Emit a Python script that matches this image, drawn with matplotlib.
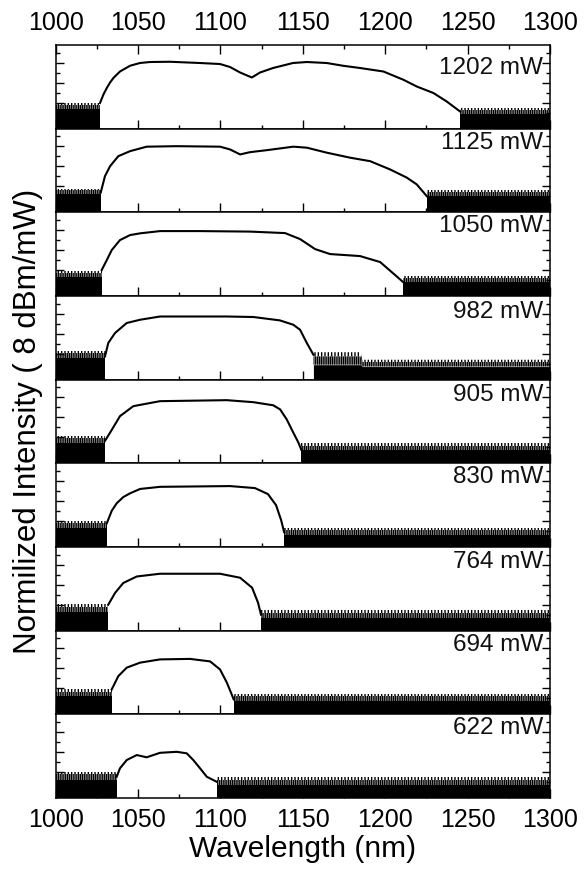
import matplotlib
matplotlib.use("Agg")
import matplotlib.pyplot as plt
from matplotlib.ticker import MultipleLocator

plt.rcParams['font.family'] = ['Liberation Sans', 'DejaVu Sans']
plt.rcParams['hatch.linewidth'] = 1.0
plt.rcParams['hatch.color'] = 'black'

# ---------------- data ----------------
powers = ['1202 mW', '1125 mW', '1050 mW', '982 mW', '905 mW',
          '830 mW', '764 mW', '694 mW', '622 mW']

# signal envelopes: wavelength (nm) and level (dB above panel floor)
wl_1202 = [1026.9, 1029.0, 1031.0, 1033.0, 1035.0, 1039.0, 1045.1, 1051.1, 1057.2, 1069.4,
           1087.6, 1099.7, 1105.8, 1111.9, 1119.0, 1124.0, 1131.9, 1144.0, 1152.4, 1164.5,
           1174.4, 1184.7, 1198.9, 1211.0, 1219.1, 1229.2, 1237.3, 1245.4]
db_1202 = [20.6, 27.5, 32.6, 37.0, 40.6, 45.8, 50.4, 52.6, 53.4, 53.6,
           52.6, 51.8, 49.4, 45.0, 41.0, 45.0, 48.6, 52.6, 53.4, 52.6,
           50.4, 48.6, 45.8, 39.2, 33.8, 28.6, 21.8, 13.8]

wl_1125 = [1027.3, 1029.9, 1033.0, 1038.0, 1045.1, 1055.2, 1073.4, 1099.7, 1105.8, 1111.9,
           1117.9, 1128.1, 1144.2, 1152.4, 1164.5, 1178.6, 1190.8, 1202.9, 1213.1, 1219.1,
           1225.2]
db_1125 = [15.8, 29.0, 37.0, 45.0, 49.0, 52.6, 53.0, 52.6, 50.4, 46.4,
           48.2, 49.8, 52.6, 51.8, 47.8, 43.8, 41.0, 34.4, 27.8, 22.4,
           13.0]

wl_1050 = [1027.9, 1031.0, 1034.0, 1039.0, 1045.1, 1051.2, 1063.3, 1087.6, 1117.9, 1139.2,
           1148.3, 1157.4, 1166.5, 1184.7, 1196.9, 1206.0, 1211.0]
db_1050 = [20.8, 28.8, 36.8, 44.8, 48.8, 50.2, 52.0, 52.0, 51.6, 50.4,
           45.6, 37.6, 33.6, 32.0, 27.2, 16.8, 11.0]

wl_982 = [1029.9, 1031.9, 1036.0, 1043.1, 1051.2, 1063.3, 1103.8, 1119.9, 1136.0, 1144.2,
          1148.3, 1152.4, 1156.4]
db_982 = [18.6, 29.4, 37.4, 45.4, 48.0, 50.6, 50.6, 50.2, 47.5, 44.0,
          40.0, 29.4, 20.0]

wl_905 = [1029.9, 1033.0, 1039.0, 1047.1, 1063.3, 1103.8, 1119.9, 1132.0, 1136.2, 1140.2,
          1144.2, 1147.3, 1149.0]
db_905 = [18.0, 24.6, 37.8, 45.8, 49.8, 50.6, 49.0, 46.5, 43.2, 35.2,
          24.6, 16.6, 11.0]

wl_830 = [1031.0, 1034.0, 1037.0, 1041.0, 1045.1, 1051.2, 1063.3, 1105.8, 1120.9, 1128.8,
          1133.7, 1136.8, 1138.6]
db_830 = [19.0, 29.0, 35.0, 40.0, 43.0, 46.5, 48.2, 48.8, 47.2, 42.4,
          33.6, 21.6, 12.0]

wl_764 = [1031.9, 1036.0, 1041.0, 1049.2, 1063.3, 1099.7, 1111.9, 1119.2, 1122.8, 1124.6]
db_764 = [20.8, 30.2, 38.2, 43.4, 45.6, 45.6, 42.4, 34.4, 22.4, 12.8]

wl_694 = [1034.0, 1038.0, 1043.1, 1051.2, 1063.3, 1081.5, 1093.7, 1099.7, 1103.8, 1106.8,
          1108.0]
db_694 = [20.0, 30.6, 37.4, 41.4, 44.0, 44.4, 42.4, 36.0, 25.6, 16.0, 12.0]

wl_622 = [1037.0, 1039.0, 1043.1, 1049.2, 1055.2, 1063.3, 1073.4, 1079.5, 1083.5, 1087.6,
          1091.7, 1097.7]
db_622 = [17.0, 23.8, 30.4, 34.4, 32.6, 36.2, 37.0, 35.8, 30.4, 23.8,
          17.0, 13.0]

signal_wl = [wl_1202, wl_1125, wl_1050, wl_982, wl_905, wl_830, wl_764, wl_694, wl_622]
signal_db = [db_1202, db_1125, db_1050, db_982, db_905, db_830, db_764, db_694, db_622]

# noise floor left of the spectrum: dense level, spike level (dB)
left_dense = [16.0, 15.0, 15.5, 17.0, 16.0, 15.0, 15.0, 14.5, 14.5]
left_spike = [20.5, 19.0, 20.0, 23.0, 22.0, 21.0, 21.0, 20.0, 21.0]

# noise floor right of the spectrum (wavelength breakpoints, dense and spike levels)
right_wl = [[1245.4, 1300], [1225.2, 1300], [1211.0, 1300],
            [1156.4, 1185, 1186, 1300], [1149.0, 1300], [1138.6, 1300],
            [1124.6, 1300], [1108.0, 1300], [1097.7, 1300]]
right_dense = [[12.0, 12.0], [13.5, 13.5], [11.5, 11.5],
               [12.0, 12.0, 10.5, 10.5], [10.5, 10.5], [10.0, 10.0],
               [10.0, 10.0], [10.5, 10.5], [10.5, 10.5]]
right_spike = [[16.5, 16.5], [18.0, 18.0], [16.0, 16.0],
               [22.0, 22.0, 16.0, 16.0], [16.0, 16.0], [15.0, 15.0],
               [16.5, 16.5], [16.5, 16.5], [16.5, 16.5]]

label_y = [0.725, 0.827, 0.835, 0.812, 0.82, 0.833, 0.824, 0.833, 0.84]

x_ticks = [1000, 1050, 1100, 1150, 1200, 1250, 1300]


def draw_floor(ax, wl, dense, spike):
    ax.fill_between(wl, 0, dense, color='black', lw=0)
    top = [(d + 2 * s) / 3 for d, s in zip(dense, spike)]
    ax.fill_between(wl, dense, top, facecolor='none', edgecolor='black',
                    hatch='|' * 9, lw=0.0001)
    ax.fill_between(wl, top, spike, facecolor='none', edgecolor='black',
                    hatch='|' * 5, lw=0.0001)


# ---------------- figure ----------------
fig = plt.figure(figsize=(5.84, 8.71), dpi=100)
gs = fig.add_gridspec(9, 1, left=0.0954, right=0.9418, top=0.9483,
                      bottom=0.0838, hspace=0)
axes = [fig.add_subplot(gs[i, 0]) for i in range(9)]

for i, ax in enumerate(axes):
    ax.set_xlim(1000, 1300)
    ax.set_ylim(0, 67)
    draw_floor(ax, [1000, signal_wl[i][0]], [left_dense[i]] * 2, [left_spike[i]] * 2)
    draw_floor(ax, right_wl[i], right_dense[i], right_spike[i])
    ax.plot(signal_wl[i], signal_db[i], color='black', lw=1.5)

    ax.text(0.986, label_y[i], powers[i], transform=ax.transAxes,
            ha='right', va='center', fontsize=17.5, color='#111111')

    ax.set_xticks(x_ticks)
    ax.xaxis.set_minor_locator(MultipleLocator(25))
    ax.tick_params(axis='x', which='both', direction='in', bottom=True,
                   top=(i == 0), labelbottom=(i == 8), labeltop=(i == 0),
                   labelsize=18, pad=7, width=1)
    ax.tick_params(axis='x', which='major', length=6.5)
    ax.tick_params(axis='x', which='minor', length=3)
    ax.set_yticks([4.8, 20.8, 36.8, 52.8])
    ax.set_yticks([12.8, 28.8, 44.8, 60.8], minor=True)
    ax.tick_params(axis='y', which='both', direction='in', left=True,
                   right=True, labelleft=False, width=1)
    ax.tick_params(axis='y', which='major', length=5.5)
    ax.tick_params(axis='y', which='minor', length=3)
    for s in ax.spines.values():
        s.set_linewidth(1.1)

axes[-1].set_xlabel('Wavelength (nm)', fontsize=21.5, labelpad=2)
fig.text(0.048, 0.516, 'Normilized Intensity ( 8 dBm/mW)', rotation=90,
         ha='center', va='center', fontsize=22.5)

fig.savefig('out.png', dpi=100)
